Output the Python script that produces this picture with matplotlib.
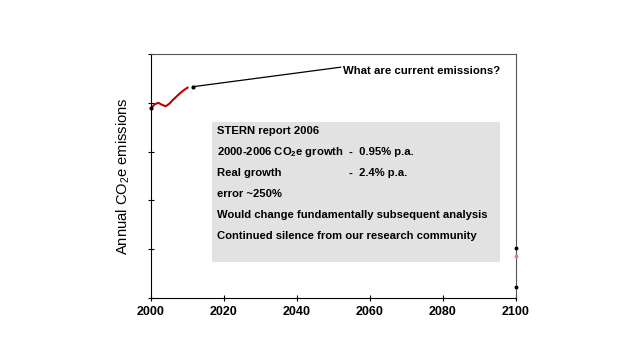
import matplotlib
matplotlib.use("Agg")
import matplotlib.pyplot as plt
from matplotlib.patches import Rectangle

plt.rcParams['font.family'] = ['Liberation Sans', 'DejaVu Sans']
plt.rcParams['mathtext.fontset'] = 'custom'
plt.rcParams['mathtext.rm'] = 'Liberation Sans'
plt.rcParams['mathtext.bf'] = 'Liberation Sans:bold'
plt.rcParams['mathtext.default'] = 'regular'

# Data
years = [2000, 2001, 2002, 2003, 2004, 2005, 2006, 2007, 2008, 2009, 2010]
emissions = [3.89, 3.97, 4.00, 3.96, 3.93, 3.98, 4.06, 4.13, 4.20, 4.26, 4.31]
current_year, current_value = 2011.5, 4.33
end_years = [2100, 2100]
end_values_black = [1.02, 0.23]
end_value_red = 0.86
xticks = [2000, 2020, 2040, 2060, 2080, 2100]
box_lines = [
    ("STERN report 2006", ""),
    (r"2000-2006 CO$_\mathbf{2}$e growth", "-  0.95% p.a."),
    ("Real growth", "-  2.4% p.a."),
    ("error ~250%", ""),
    ("Would change fundamentally subsequent analysis", ""),
    ("Continued silence from our research community", ""),
]

fig = plt.figure(figsize=(6.4, 3.6), dpi=100)
ax = fig.add_axes([0.236, 0.172, 0.57, 0.678])
ax.set_xlim(2000, 2100)
ax.set_ylim(0, 5)

ax.plot(years, emissions, color='#c00000', lw=1.5, zorder=3)
ax.plot([years[0]], [emissions[0]], 'o', color='black', ms=2, clip_on=False, zorder=4)
ax.plot([current_year], [current_value], 'o', color='black', ms=2, zorder=4)
ax.plot([current_year, 2052], [current_value, 4.73], color='black', lw=0.9)
ax.text(2052.5, 4.66, "What are current emissions?", fontsize=8.2,
        fontweight='bold', va='center', ha='left')

ax.plot(end_years, end_values_black, 'o', color='black', ms=1.8, clip_on=False, zorder=4)
ax.plot([2100], [end_value_red], 'o', color='#e08080', ms=1.8, clip_on=False, zorder=4)

ax.add_patch(Rectangle((2016.8, 0.74), 78.8, 2.87, facecolor='#e2e2e2',
                       edgecolor='none', zorder=1))
y0 = 3.42
dy = 0.43
for i, (left, right) in enumerate(box_lines):
    y = y0 - i * dy
    ax.text(2018.2, y, left, fontsize=8.1, fontweight='bold', va='center', ha='left', zorder=2)
    if right:
        ax.text(2054.4, y, right, fontsize=8.1, fontweight='bold', va='center', ha='left', zorder=2)

ax.set_xticks(xticks)
ax.set_xticklabels([str(t) for t in xticks], fontsize=9, fontweight='bold')
ax.set_yticks([0, 1, 2, 3, 4, 5])
ax.set_yticklabels([])
ax.tick_params(axis='both', direction='inout', length=4, width=0.8)
ax.set_ylabel(r"Annual CO$_2$e emissions", fontsize=10.6, labelpad=8)
for s in ax.spines.values():
    s.set_linewidth(0.8)
for s in ['top', 'right']:
    ax.spines[s].set_color('#555555')

fig.savefig("out.png", dpi=100)
